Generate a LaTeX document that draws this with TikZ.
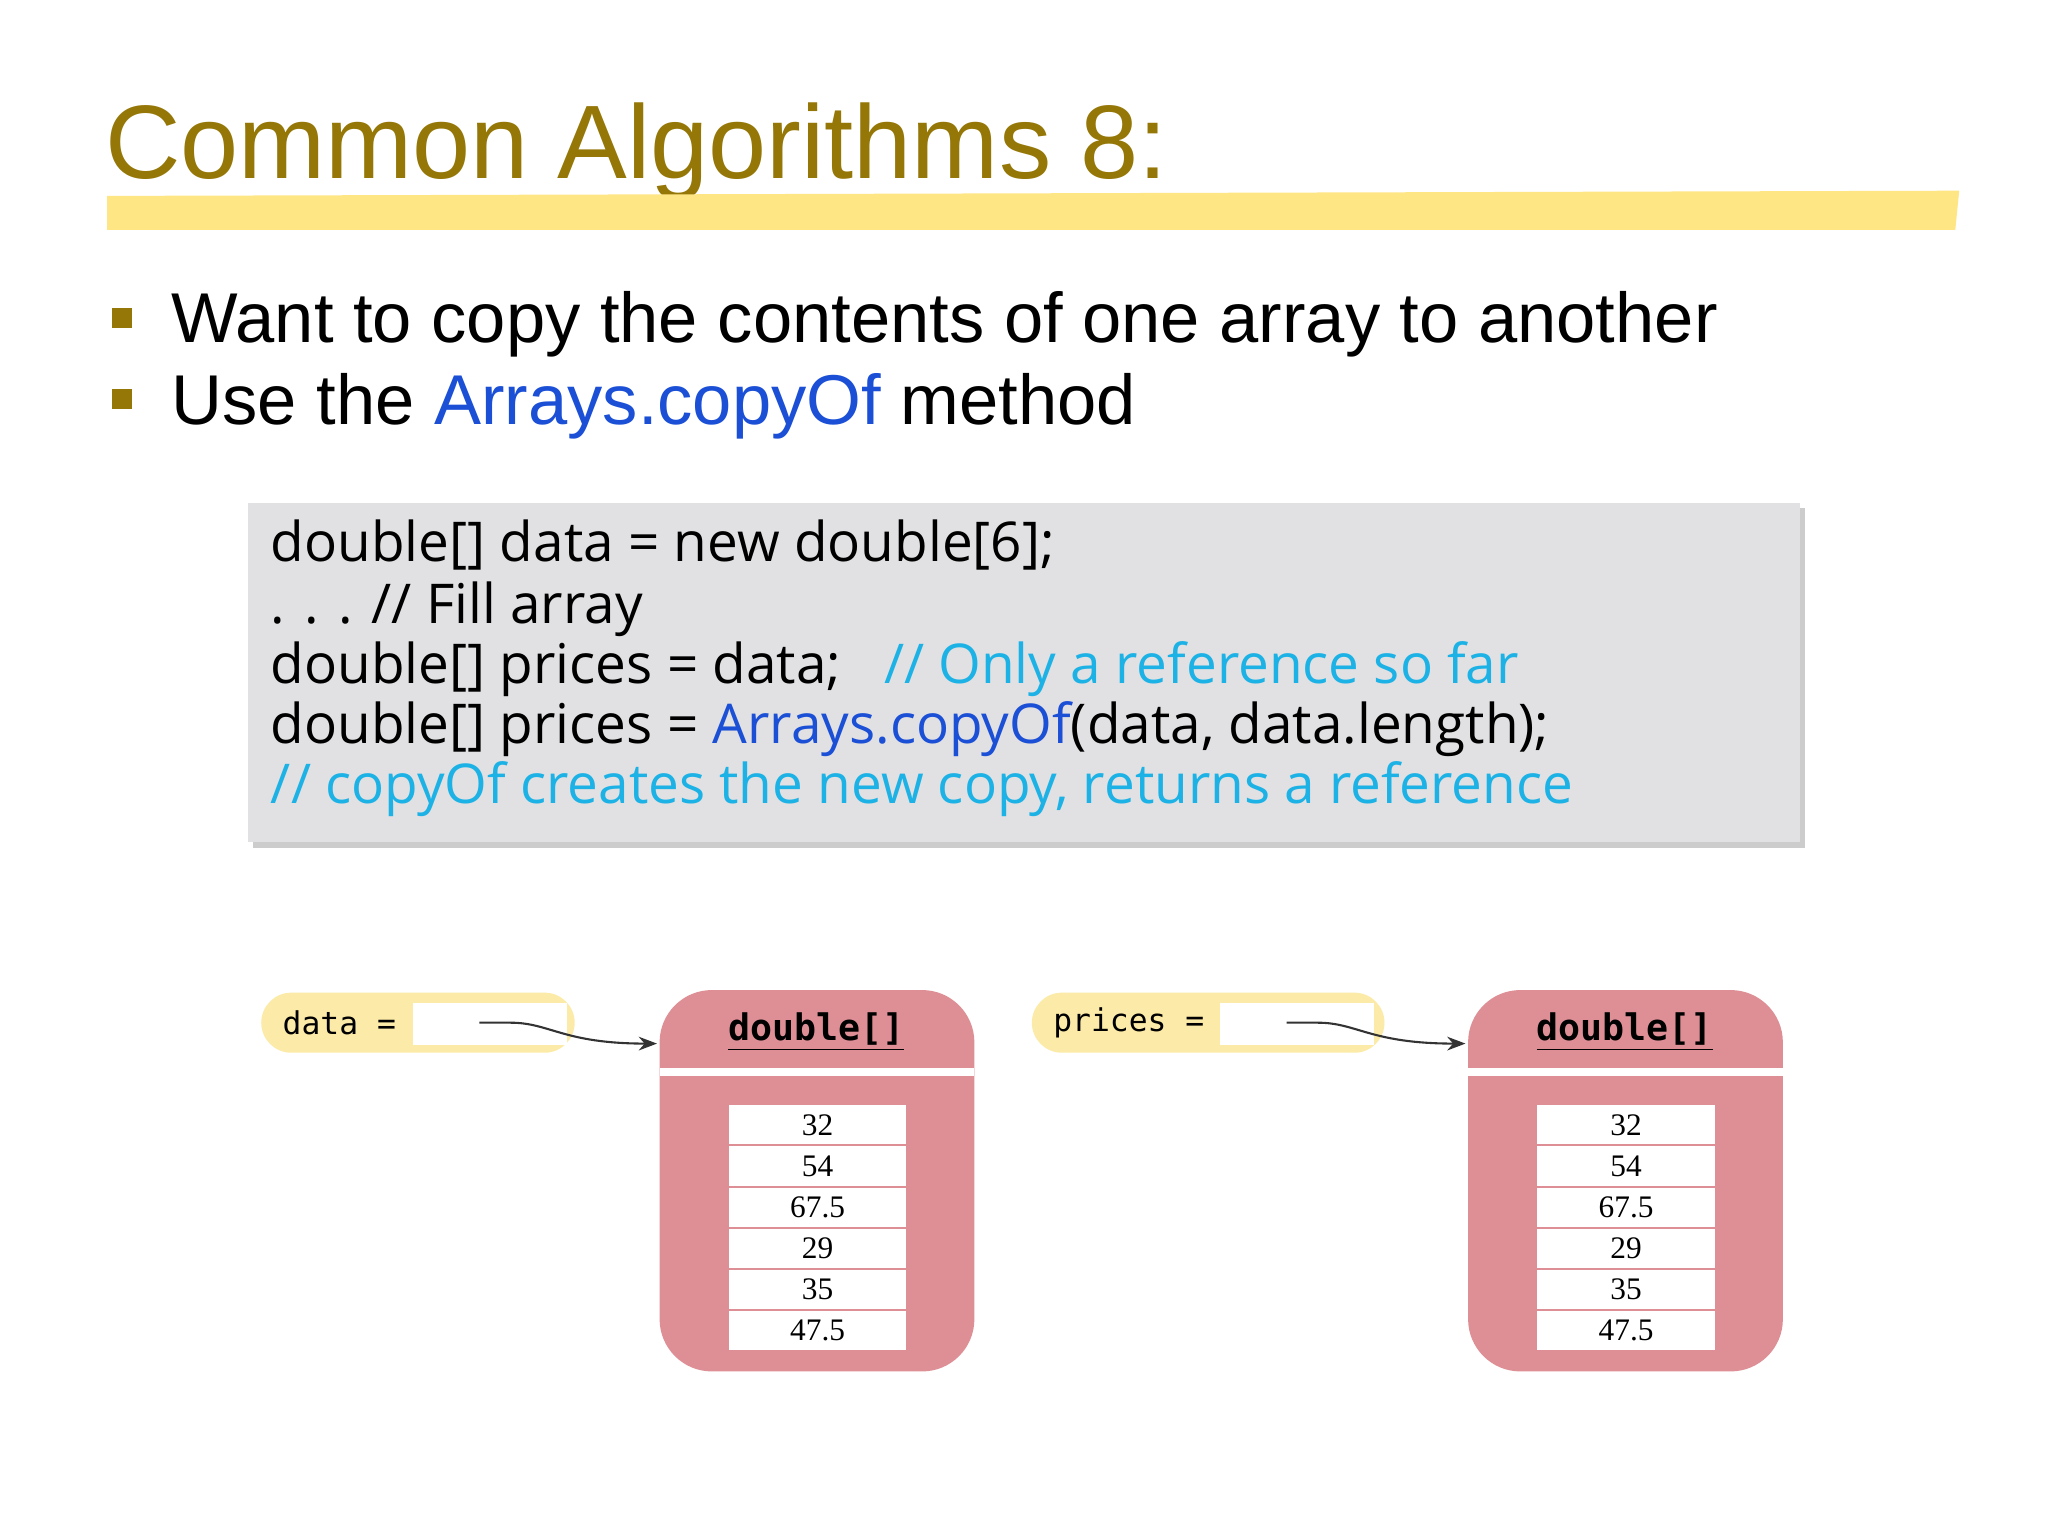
\documentclass[tikz,border=0pt]{standalone}
\usepackage{fontspec}
\setmainfont{Liberation Sans}
\newfontfamily\codefont{Open Sans}
\newfontfamily\monofont{DejaVu Sans Mono}
\newfontfamily\numfont{Liberation Serif}
\usetikzlibrary{shadows,arrows.meta}
\definecolor{olive}{HTML}{957708}
\definecolor{barY}{HTML}{FFE685}
\definecolor{codebg}{HTML}{E1E0E2}
\definecolor{kwblue}{HTML}{1A4FD6}
\definecolor{cmt}{HTML}{1DB2E6}
\definecolor{pill}{HTML}{FCEBA8}
\definecolor{pink}{HTML}{DE8F96}
\tikzset{
 code/.style={anchor=base west,font=\codefont\fontsize{21}{24}\selectfont,inner sep=0},
 bul/.style={anchor=base west,font=\fontsize{27}{30}\selectfont,inner sep=0},
 cell/.style={fill=white,minimum width=68pt,minimum height=15pt,inner sep=0,font=\numfont\fontsize{12}{14}\selectfont},
 pinkbox/.style={fill=pink,rounded corners=20pt},
}
\begin{document}
\begin{tikzpicture}[x=0.5pt,y=-0.5pt]
\useasboundingbox (0,0) rectangle (1568,1176);
\fill[white] (0,0) rectangle (1568,1176);
\node[anchor=base west,inner sep=0,text=olive,font=\fontsize{40}{44}\selectfont] (title) at (80,137) {Common Algorithms 8:};
\fill[barY] (82,150) -- (1500,146) -- (1497,176) -- (82,176) -- cycle;
\fill[olive] (86,236) rectangle (101,251);
\fill[olive] (86,298) rectangle (101,313);
\node[bul] (b1) at (131,262) {Want to copy the contents of one array to another};
\node[bul] (b2) at (131,325) {Use the \textcolor{kwblue}{Arrays.copyOf} method};
\fill[codebg,drop shadow={shadow xshift=2pt,shadow yshift=-2pt,opacity=0.4}] (190,385) rectangle (1378,645);
\node[code] (c1) at (207,430) {double[] data = new double[6];};
\node[code] (c2) at (207,477) {. . . // Fill array};
\node[code] (c3) at (207,523) {double[] prices = data; \ \ \textcolor{cmt}{// Only a reference so far}};
\node[code] (c4) at (207,569) {double[] prices = \textcolor{kwblue}{Arrays.copyOf}(data, data.length);};
\node[code] (c5) at (207,615) {\textcolor{cmt}{// copyOf creates the new copy, returns a reference}};
\foreach \n/\lab/\px/\pw/\wx/\bx in {d/data/200/240/316/505, p/prices/790/270/934/1124}{
 \fill[pill,rounded corners=11.5pt] (\px,760) rectangle ++(\pw,46);
 \fill[white] (\wx,768) rectangle ++(118,32);
 \node[anchor=west,inner sep=0,font=\monofont\fontsize{12}{14}\selectfont] (\n lab) at (\px+16,783) {\lab\ =};
 \fill[pinkbox] (\bx,758) rectangle ++(241,292);
 \fill[white] (\bx,818) rectangle ++(241,6);
 \node[font=\monofont\bfseries\fontsize{14}{16}\selectfont,inner sep=0] (\n head) at (\bx+120,790) {\underline{double[]}};
 \coordinate (\n start) at (\wx+51,783);
 \coordinate (\n end) at (\bx-2,799);
 \draw[thick,black!80,-{Stealth[length=7pt]}] (\n start) -- (\wx+75,783) .. controls (\wx+105,783) and (\wx+115,799) .. (\n end);
 \foreach \v [count=\i] in {32,54,67.5,29,35,47.5}{
  \node[cell] (\n c\i) at (\bx+121,845+31.5*\i-15.25) {\v};
 }
}
\end{tikzpicture}
\end{document}
